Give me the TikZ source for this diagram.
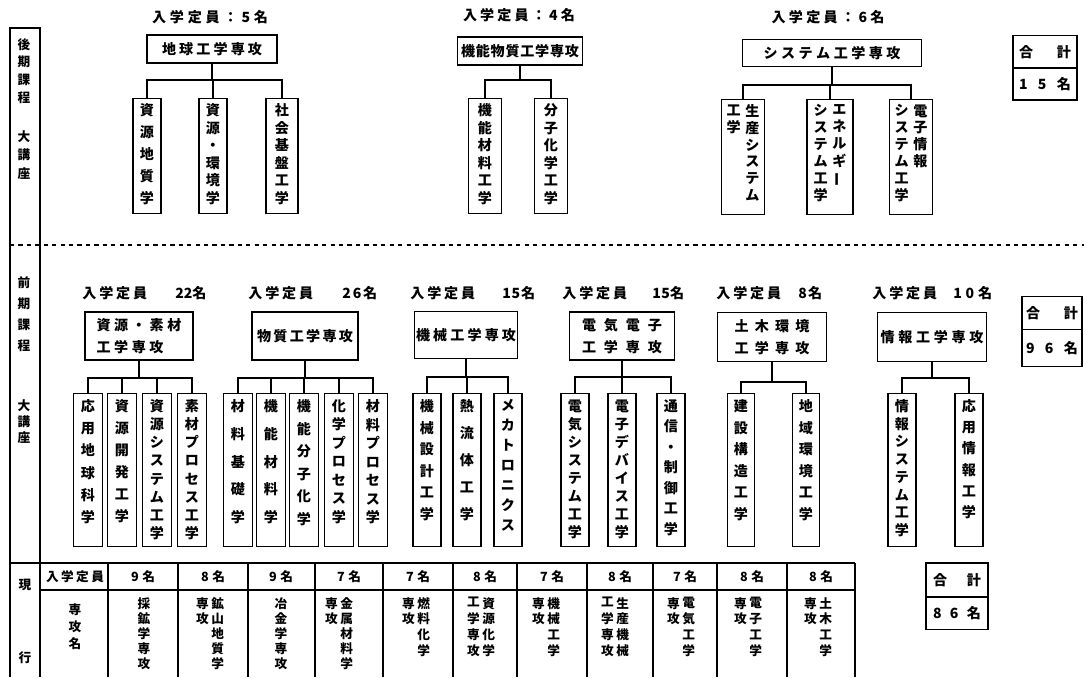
\documentclass[tikz,border=0pt]{standalone}
\usepackage{fontspec}
\setmainfont{Noto Sans CJK JP}
\usepackage{tikz}
\makeatletter
\newdimen\px \px=0.025cm
\newcommand{\tate}[2]{\vbox to #1\px{\hsize=1.05em\baselineskip=1em\lineskiplimit=-\maxdimen\@tfor\tc:=#2\do{\hbox to\hsize{\hss\tc\hss}\vfill}\unskip}}
\newcommand{\yoko}[2]{\hbox to #1\px{\@tfor\yc:=#2\do{\yc\hfill}\unskip}}
\makeatother
\newcommand{\waku}[2]{\vbox to #1\px{#2\vfill}}
\newcommand{\teiinmoji}[3]{\yoko{65}{入学定員}\hspace{#1\px}\yoko{#2}{#3}}
\newcommand{\bou}{\rotatebox[origin=c]{90}{ー}}

\begin{document}
\begin{tikzpicture}[x=0.025cm, y=-0.025cm,
    sen/.style={line width=1.2pt},
    senko/.style={draw, line width=1.2pt, inner sep=0pt, font=\bfseries},
    kouza/.style={draw, line width=1.2pt, inner sep=0pt, font=\bfseries},
    goukei/.style={draw, line width=1.2pt, inner sep=0pt, font=\bfseries},
    moji/.style={inner sep=0pt, font=\bfseries},
    hyou/.style={inner sep=0pt, font=\fontsize{9pt}{11pt}\selectfont\bfseries},
    wh/.style 2 args={minimum width=#1*0.025cm, minimum height=#2*0.025cm}]
    \useasboundingbox (0,0) rectangle (1084,677);

    \draw[sen] (40,677) -- (40,28) -- (10,28) -- (10,677);
    \node[hyou] (kouki) at (24,71) {\tate{64}{後期課程}};
    \node[hyou] (daikouza1) at (24,155) {\tate{48}{大講座}};
    \node[hyou] (zenki) at (24,314) {\tate{74}{前期課程}};
    \node[hyou] (daikouza2) at (24,422) {\tate{43}{大講座}};
    \node[hyou] (gen) at (25,585) {現};
    \node[hyou] (kou) at (25,658) {行};
    \draw[line width=0.8pt, dashed] (10,245) -- (1084,245);

    \node[moji] (teiin1) at (210,17) {\yoko{116}{入学定員：5名}};
    \node[senko, wh={130}{28}] (chikyu) at (212,49) {\yoko{100}{地球工学専攻}};
    \coordinate (bus1) at (212,80);
    \node[kouza, wh={28}{115}] (shigenchishitsu) at (147,156) {\waku{105}{\tate{100}{資源地質学}}};
    \node[kouza, wh={28}{115}] (shigenkankyou) at (213,156) {\waku{105}{\tate{100}{資源・環境学}}};
    \node[kouza, wh={32}{115}] (shakaikiban) at (282,156) {\waku{105}{\tate{100}{社会基盤工学}}};
    \draw[sen] (chikyu.south) -- (bus1) -| (shigenchishitsu.north);
    \draw[sen] (bus1) -| (shigenkankyou.north);
    \draw[sen] (bus1) -| (shakaikiban.north);

    \node[moji] (teiin2) at (519,15) {\yoko{112}{入学定員：4名}};
    \node[senko, wh={125}{28}] (kinoubusshitsu) at (520,51) {\yoko{118}{機能物質工学専攻}};
    \coordinate (bus2) at (520,80);
    \node[kouza, wh={33}{115}] (kinouzairyou) at (485,156) {\waku{105}{\tate{100}{機能材料工学}}};
    \node[kouza, wh={33}{115}] (bunshikagaku) at (551,156) {\waku{105}{\tate{100}{分子化学工学}}};
    \draw[sen] (kinoubusshitsu.south) -- (bus2) -| (kinouzairyou.north);
    \draw[sen] (bus2) -| (bunshikagaku.north);

    \node[moji] (teiin3) at (828,17) {\yoko{113}{入学定員：6名}};
    \node[senko, wh={179}{27}] (system) at (832,53) {\yoko{137}{システム工学専攻}};
    \coordinate (bus3) at (832,85);
    \node[kouza, wh={43}{115}] (seisan) at (743,157) {\waku{105}{\hbox{\tate{96}{工学{}{}{}{}}\hspace{4\px}\tate{96}{生産システム}}}};
    \node[kouza, wh={46}{115}] (energy) at (830,157) {\waku{105}{\hbox{\tate{96}{システム工学}\hspace{4\px}\tate{96}{エネルギ{\bou}{}}}}};
    \node[kouza, wh={43}{115}] (denshijouhou) at (911,157) {\waku{105}{\hbox{\tate{96}{システム工学}\hspace{4\px}\tate{96}{電子情報{}{}}}}};
    \draw[sen] (system.south) -- (bus3) -| (seisan.north);
    \draw[sen] (bus3) -| (energy.north);
    \draw[sen] (bus3) -| (denshijouhou.north);

    \node[goukei, wh={64}{33}] (goukei1) at (1045,52) {\yoko{52}{合計}};
    \node[goukei, wh={64}{32}] (goukeisu1) at (1045,84) {\yoko{52}{15名}};

    \node[moji, anchor=west] (teiin4) at (82,293) {\teiinmoji{28}{30}{22名}};
    \node[moji, anchor=west] (teiin5) at (248,293) {\teiinmoji{29}{35}{26名}};
    \node[moji, anchor=west] (teiin6) at (410,293) {\teiinmoji{27}{33}{15名}};
    \node[moji, anchor=west] (teiin7) at (562,293) {\teiinmoji{25}{32}{15名}};
    \node[moji, anchor=west] (teiin8) at (716,293) {\teiinmoji{17}{24}{8名}};
    \node[moji, anchor=west] (teiin9) at (872,293) {\teiinmoji{16}{39}{10名}};

    \node[senko, wh={108}{48}] (shigensozai) at (139,336) {\vbox{\baselineskip=22\px\yoko{85}{資源・素材}\yoko{67}{工学専攻}}};
    \coordinate (bus4) at (139,378);
    \node[kouza, wh={29}{153}] (ouyouchikyu) at (88,470) {\waku{141}{\tate{123}{応用地球科学}}};
    \node[kouza, wh={29}{153}] (shigenkaihatsu) at (122,470) {\waku{141}{\tate{122}{資源開発工学}}};
    \node[kouza, wh={29}{153}] (shigensystem) at (157,470) {\waku{141}{\tate{139}{資源システム工学}}};
    \node[kouza, wh={29}{153}] (sozaiprocess) at (192,470) {\waku{141}{\tate{139}{素材プロセス工学}}};
    \draw[sen] (shigensozai.south) -- (bus4) -| (ouyouchikyu.north);
    \draw[sen] (bus4) -| (shigenkaihatsu.north);
    \draw[sen] (bus4) -| (shigensystem.north);
    \draw[sen] (bus4) -| (sozaiprocess.north);

    \node[senko, wh={106}{48}] (busshitsu) at (305,336) {\yoko{96}{物質工学専攻}};
    \coordinate (bus5) at (305,378);
    \node[kouza, wh={29}{153}] (zairyoukiso) at (238,470) {\waku{141}{\tate{123}{材料基礎学}}};
    \node[kouza, wh={29}{153}] (kinouzairyougaku) at (271,470) {\waku{141}{\tate{123}{機能材料学}}};
    \node[kouza, wh={29}{153}] (kinoubunshi) at (304,470) {\waku{141}{\tate{125}{機能分子化学}}};
    \node[kouza, wh={29}{153}] (kagakuprocess) at (339,470) {\waku{141}{\tate{123}{化学プロセス学}}};
    \node[kouza, wh={29}{153}] (zairyouprocess) at (373,470) {\waku{141}{\tate{123}{材料プロセス学}}};
    \draw[sen] (busshitsu.south) -- (bus5) -| (zairyoukiso.north);
    \draw[sen] (bus5) -| (kinouzairyougaku.north);
    \draw[sen] (bus5) -| (kinoubunshi.north);
    \draw[sen] (bus5) -| (kagakuprocess.north);
    \draw[sen] (bus5) -| (zairyouprocess.north);

    \node[senko, wh={103}{47}] (kikai) at (466,335) {\yoko{100}{機械工学専攻}};
    \coordinate (bus6) at (466,377);
    \node[kouza, wh={28}{153}] (kikaisekkei) at (427,470) {\waku{141}{\tate{120}{機械設計工学}}};
    \node[kouza, wh={28}{153}] (netsuryuutai) at (467,470) {\waku{141}{\tate{120}{熱流体工学}}};
    \node[kouza, wh={28}{153}] (mechatronics) at (508,470) {\waku{141}{\tate{131}{メカトロニクス}}};
    \draw[sen] (kikai.south) -- (bus6) -| (kikaisekkei.north);
    \draw[sen] (bus6) -| (netsuryuutai.north);
    \draw[sen] (bus6) -| (mechatronics.north);

    \node[senko, wh={105}{48}] (denkidenshi) at (622,336) {\vbox{\baselineskip=22\px\yoko{80}{電気電子}\yoko{80}{工学専攻}}};
    \coordinate (bus7) at (622,377);
    \node[kouza, wh={28}{153}] (denkisystem) at (575,470) {\waku{141}{\tate{138}{電気システム工学}}};
    \node[kouza, wh={28}{153}] (denshidevice) at (622,470) {\waku{141}{\tate{138}{電子デバイス工学}}};
    \node[kouza, wh={28}{153}] (tsuushin) at (671,470) {\waku{141}{\tate{135}{通信・制御工学}}};
    \draw[sen] (denkidenshi.south) -- (bus7) -| (denkisystem.north);
    \draw[sen] (bus7) -| (denshidevice.north);
    \draw[sen] (bus7) -| (tsuushin.north);

    \node[senko, wh={109}{49}] (dobokukankyou) at (772,337) {\vbox{\baselineskip=22\px\yoko{75}{土木環境}\yoko{75}{工学専攻}}};
    \coordinate (bus8) at (772,382);
    \node[kouza, wh={27}{153}] (kensetsu) at (741,470) {\waku{141}{\tate{120}{建設構造工学}}};
    \node[kouza, wh={27}{153}] (chiikikankyou) at (806,470) {\waku{141}{\tate{120}{地域環境工学}}};
    \draw[sen] (dobokukankyou.south) -- (bus8) -| (kensetsu.north);
    \draw[sen] (bus8) -| (chiikikankyou.north);

    \node[senko, wh={109}{49}] (jouhou) at (932,337) {\yoko{103}{情報工学専攻}};
    \coordinate (bus9) at (932,378);
    \node[kouza, wh={28}{153}] (jouhousystem) at (902,470) {\waku{141}{\tate{136}{情報システム工学}}};
    \node[kouza, wh={28}{153}] (ouyoujouhou) at (969,470) {\waku{141}{\tate{118}{応用情報工学}}};
    \draw[sen] (jouhou.south) -- (bus9) -| (jouhousystem.north);
    \draw[sen] (bus9) -| (ouyoujouhou.north);

    \node[goukei, wh={60}{33}] (goukei2) at (1052,313) {\yoko{52}{合計}};
    \node[goukei, wh={60}{37}] (goukeisu2) at (1052,348) {\yoko{52}{96名}};

    \draw[sen] (10,563) -- (855,563);
    \draw[sen] (40,590) -- (855,590);
    \draw[sen] (108,563) -- (108,677);
    \draw[sen] (178,563) -- (178,677);
    \draw[sen] (248,563) -- (248,677);
    \draw[sen] (315,563) -- (315,677);
    \draw[sen] (383,563) -- (383,677);
    \draw[sen] (453,563) -- (453,677);
    \draw[sen] (517,563) -- (517,677);
    \draw[sen] (587,563) -- (587,677);
    \draw[sen] (653,563) -- (653,677);
    \draw[sen] (717,563) -- (717,677);
    \draw[sen] (787,563) -- (787,677);
    \draw[sen] (855,563) -- (855,677);

    \node[hyou] (teiinhyou) at (75,577) {\yoko{58}{入学定員}};
    \node[hyou] (saikounin) at (143,577) {\yoko{24}{9名}};
    \node[hyou] (kouzannin) at (213,577) {\yoko{24}{8名}};
    \node[hyou] (yakinnin) at (281,577) {\yoko{24}{9名}};
    \node[hyou] (kinzokunin) at (349,577) {\yoko{24}{7名}};
    \node[hyou] (nenryounin) at (418,577) {\yoko{24}{7名}};
    \node[hyou] (shigenkagakunin) at (485,577) {\yoko{24}{8名}};
    \node[hyou] (kikainin) at (552,577) {\yoko{24}{7名}};
    \node[hyou] (seisannin) at (620,577) {\yoko{24}{8名}};
    \node[hyou] (denkinin) at (685,577) {\yoko{24}{7名}};
    \node[hyou] (denshinin) at (752,577) {\yoko{24}{8名}};
    \node[hyou] (dobokunin) at (821,577) {\yoko{24}{8名}};

    \node[hyou, anchor=north] (senkoumei) at (75,603) {\tate{45}{専攻名}};
    \node[hyou, anchor=north] (saikou) at (144,597) {\tate{71}{採鉱学専攻}};
    \node[hyou, anchor=north] (kouzanchishitsu) at (210,597) {\hbox{\tate{71}{専攻{}{}{}}\hspace{2\px}\tate{71}{鉱山地質学}}};
    \node[hyou, anchor=north] (yakin) at (281,597) {\tate{71}{冶金学専攻}};
    \node[hyou, anchor=north] (kinzoku) at (339,597) {\hbox{\tate{71}{専攻{}{}{}}\hspace{2\px}\tate{71}{金属材料学}}};
    \node[hyou, anchor=north] (nenryou) at (416,597) {\hbox{\tate{58}{専攻{}{}}\hspace{2\px}\tate{58}{燃料化学}}};
    \node[hyou, anchor=north] (shigenkagaku) at (481,597) {\hbox{\tate{58}{工学専攻}\hspace{2\px}\tate{58}{資源化学}}};
    \node[hyou, anchor=north] (kikaikougaku) at (546,597) {\hbox{\tate{58}{専攻{}{}}\hspace{2\px}\tate{58}{機械工学}}};
    \node[hyou, anchor=north] (seisankikai) at (615,597) {\hbox{\tate{58}{工学専攻}\hspace{2\px}\tate{58}{生産機械}}};
    \node[hyou, anchor=north] (denki) at (681,597) {\hbox{\tate{58}{専攻{}{}}\hspace{2\px}\tate{58}{電気工学}}};
    \node[hyou, anchor=north] (denshi) at (748,597) {\hbox{\tate{58}{専攻{}{}}\hspace{2\px}\tate{58}{電子工学}}};
    \node[hyou, anchor=north] (doboku) at (818,597) {\hbox{\tate{58}{専攻{}{}}\hspace{2\px}\tate{58}{土木工学}}};

    \node[goukei, wh={62}{34}] (goukei3) at (957,580) {\yoko{48}{合計}};
    \node[goukei, wh={62}{33}] (goukeisu3) at (957,613) {\yoko{48}{86名}};
\end{tikzpicture}
\end{document}
